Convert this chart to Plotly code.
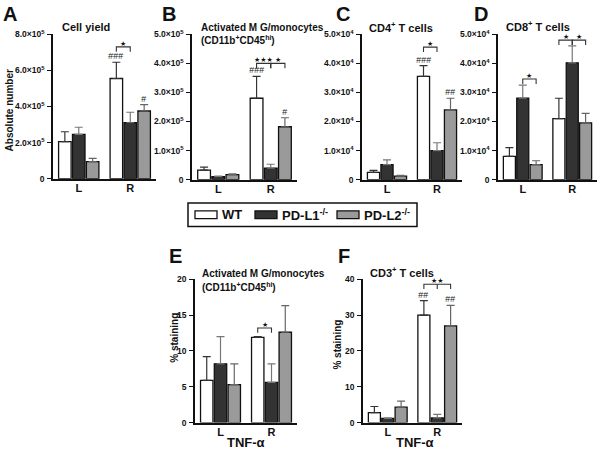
import plotly.graph_objects as go

W, H = 600, 452
FONT = "Arial, Liberation Sans, sans-serif"

# ---------------- data ----------------
groups = ["L", "R"]
genotypes = ["WT", "PD-L1-/-", "PD-L2-/-"]

# panel A: cell yield
A_wt = [2.05e5, 5.55e5];  A_wt_err = [0.55e5, 0.90e5]
A_l1 = [2.45e5, 3.10e5];  A_l1_err = [0.40e5, 0.58e5]
A_l2 = [0.95e5, 3.75e5];  A_l2_err = [0.17e5, 0.35e5]
# panel B: activated MG/monocytes
B_wt = [0.33e5, 2.80e5];  B_wt_err = [0.10e5, 0.75e5]
B_l1 = [0.10e5, 0.40e5];  B_l1_err = [0.02e5, 0.13e5]
B_l2 = [0.17e5, 1.82e5];  B_l2_err = [0.03e5, 0.31e5]
# panel C: CD4+ T cells
C_wt = [0.25e4, 3.55e4];  C_wt_err = [0.07e4, 0.37e4]
C_l1 = [0.52e4, 1.00e4];  C_l1_err = [0.16e4, 0.27e4]
C_l2 = [0.12e4, 2.40e4];  C_l2_err = [0.03e4, 0.40e4]
# panel D: CD8+ T cells
D_wt = [0.80e4, 2.10e4];  D_wt_err = [0.30e4, 0.70e4]
D_l1 = [2.80e4, 4.02e4];  D_l1_err = [0.45e4, 0.58e4]
D_l2 = [0.52e4, 1.95e4];  D_l2_err = [0.13e4, 0.33e4]
# panel E: TNF-a % staining, activated MG/monocytes
E_wt = [5.9, 11.9];  E_wt_err = [3.3, 0.1]
E_l1 = [8.2, 5.6];   E_l1_err = [3.8, 2.6]
E_l2 = [5.3, 12.6];  E_l2_err = [2.9, 3.7]
# panel F: TNF-a % staining, CD3+ T cells
F_wt = [2.8, 30.0];  F_wt_err = [1.7, 4.0]
F_l1 = [1.2, 1.3];   F_l1_err = [0.1, 1.0]
F_l2 = [4.3, 27.0];  F_l2_err = [1.7, 5.7]

# y ticks
A_ticks = [0, 2e5, 4e5, 6e5, 8e5]
A_ticktext = ["0", "2.0×10<sup>5</sup>", "4.0×10<sup>5</sup>", "6.0×10<sup>5</sup>", "8.0×10<sup>5</sup>"]
B_ticks = [0, 1e5, 2e5, 3e5, 4e5, 5e5]
B_ticktext = ["0"] + ["%d.0×10<sup>5</sup>" % i for i in range(1, 6)]
CD_ticks = [0, 1e4, 2e4, 3e4, 4e4, 5e4]
CD_ticktext = ["0"] + ["%d.0×10<sup>4</sup>" % i for i in range(1, 6)]
E_ticks = [0, 5, 10, 15, 20]
F_ticks = [0, 10, 20, 30, 40]

# significance: (group index, bar i, bar j, bracket y, label)
A_brackets = [(1, 0, 1, 7.3e5, "★")]
B_brackets = [(1, 0, 1, 4.0e5, "★★★"), (1, 1, 2, 4.0e5, "★")]
C_brackets = [(1, 0, 1, 4.56e4, "★")]
D_brackets = [(0, 1, 2, 3.46e4, "★"), (1, 0, 1, 4.8e4, "★"), (1, 1, 2, 4.8e4, "★")]
E_brackets = [(1, 0, 1, 13.2, "★")]
F_brackets = [(1, 0, 2, 38.6, "★★")]
# hash marks: (group index, bar index, label)
A_hash = [(1, 0, "###"), (1, 2, "#")]
B_hash = [(1, 0, "###"), (1, 2, "#")]
C_hash = [(1, 0, "###"), (1, 2, "##")]
F_hash = [(1, 0, "##"), (1, 2, "##")]

# ---------------- style ----------------
colors = ["#ffffff", "#333333", "#9a9a9a"]
err_colors = ["#333333", "#777777", "#666666"]
BARGAP, GROUPGAP = 0.19, 0.10
slot = (1 - BARGAP) / 3
offsets = [-slot, 0.0, slot]

def px_x(x):
    return x / W

def px_y(y):
    return 1 - y / H

panels = [
    dict(name="A", vals=(A_wt, A_l1, A_l2), errs=(A_wt_err, A_l1_err, A_l2_err),
         rng=[0, 8e5], ticks=A_ticks, ticktext=A_ticktext, box=(53, 156, 29, 177),
         brackets=A_brackets, hashes=A_hash),
    dict(name="B", vals=(B_wt, B_l1, B_l2), errs=(B_wt_err, B_l1_err, B_l2_err),
         rng=[0, 5e5], ticks=B_ticks, ticktext=B_ticktext, box=(192, 297, 29, 178),
         brackets=B_brackets, hashes=B_hash),
    dict(name="C", vals=(C_wt, C_l1, C_l2), errs=(C_wt_err, C_l1_err, C_l2_err),
         rng=[0, 5e4], ticks=CD_ticks, ticktext=CD_ticktext, box=(362, 462, 29, 178),
         brackets=C_brackets, hashes=C_hash),
    dict(name="D", vals=(D_wt, D_l1, D_l2), errs=(D_wt_err, D_l1_err, D_l2_err),
         rng=[0, 5e4], ticks=CD_ticks, ticktext=CD_ticktext, box=(498, 597, 29, 178),
         brackets=D_brackets, hashes=[]),
    dict(name="E", vals=(E_wt, E_l1, E_l2), errs=(E_wt_err, E_l1_err, E_l2_err),
         rng=[0, 20], ticks=E_ticks, ticktext=[str(t) for t in E_ticks], box=(195, 297, 280, 427),
         brackets=E_brackets, hashes=[]),
    dict(name="F", vals=(F_wt, F_l1, F_l2), errs=(F_wt_err, F_l1_err, F_l2_err),
         rng=[0, 40], ticks=F_ticks, ticktext=[str(t) for t in F_ticks], box=(363, 462, 280, 427),
         brackets=F_brackets, hashes=F_hash),
]

fig = go.Figure()
layout = dict(width=W, height=H, margin=dict(l=0, r=0, t=0, b=0),
              paper_bgcolor="white", plot_bgcolor="white", showlegend=False,
              barmode="group", bargap=BARGAP, bargroupgap=GROUPGAP,
              font=dict(family=FONT, color="#111111"))
shapes, annotations = [], []

for k, p in enumerate(panels):
    sfx = "" if k == 0 else str(k + 1)
    xa, ya = "x" + sfx, "y" + sfx
    x0, x1, ytop, ybot = p["box"]
    plot_h = ybot - ytop
    for i in range(3):
        fig.add_trace(go.Bar(
            x=[0, 1], y=p["vals"][i], name=genotypes[i], xaxis=xa, yaxis=ya,
            marker=dict(color=colors[i], line=dict(color="#111111", width=1.3)),
            error_y=dict(type="data", symmetric=False, array=p["errs"][i],
                         arrayminus=[0, 0], color=err_colors[i], thickness=1.2, width=4),
        ))
    layout["xaxis" + sfx] = dict(
        domain=[px_x(x0), px_x(x1)], anchor=ya, range=[-0.5, 1.5],
        tickvals=[0, 1], ticktext=groups, ticks="", showline=True, linecolor="#111111",
        linewidth=1.5, showgrid=False, zeroline=False, ticklabelstandoff=-2,
        tickfont=dict(family=FONT, size=11, color="#111111", weight="bold"))
    layout["yaxis" + sfx] = dict(
        domain=[px_y(ybot), px_y(ytop)], anchor=xa, range=p["rng"],
        tickvals=p["ticks"], ticktext=p["ticktext"], ticks="outside", ticklen=4,
        tickwidth=1.2, tickcolor="#111111", showline=True, linecolor="#111111",
        linewidth=1.5, showgrid=False, zeroline=False, ticklabelstandoff=1,
        tickfont=dict(family=FONT, size=8.5, color="#111111", weight="bold"))
    dpx = (p["rng"][1] - p["rng"][0]) / plot_h
    for (g, i, j, yb, lab) in p["brackets"]:
        xa_ = g + offsets[i]
        xb_ = g + offsets[j]
        path = "M %f,%f L %f,%f L %f,%f L %f,%f" % (xa_, yb - 5 * dpx, xa_, yb, xb_, yb, xb_, yb - 5 * dpx)
        shapes.append(dict(type="path", path=path, xref=xa, yref=ya,
                           line=dict(color="#333333", width=1.1)))
        if j - i == 2:
            xm = g + offsets[1]
            shapes.append(dict(type="line", x0=xm, x1=xm, y0=yb, y1=yb - 5 * dpx, xref=xa, yref=ya,
                               line=dict(color="#333333", width=1.1)))
        annotations.append(dict(x=(xa_ + xb_) / 2, y=yb, xref=xa, yref=ya, text=lab,
                                showarrow=False, yanchor="bottom", yshift=-3,
                                font=dict(family="DejaVu Sans", size=7, color="#111111")))
    for (g, i, lab) in p["hashes"]:
        top = p["vals"][i][g] + p["errs"][i][g]
        annotations.append(dict(x=g + offsets[i], y=top, xref=xa, yref=ya, text="<i>" + lab + "</i>",
                                showarrow=False, yanchor="bottom", yshift=-1,
                                font=dict(family=FONT, size=9, color="#222222")))

def txt(x, y, s, size, xanchor="left", yanchor="middle", angle=0):
    annotations.append(dict(x=px_x(x), y=px_y(y), xref="paper", yref="paper", text=s,
                            showarrow=False, xanchor=xanchor, yanchor=yanchor, textangle=angle,
                            font=dict(family=FONT, size=size, color="#111111", weight="bold")))

# panel letters
for lab, x, y in [("A", 1, 8), ("B", 160, 8), ("C", 334, 8), ("D", 472, 8), ("E", 167, 256), ("F", 336, 256)]:
    txt(x, y, lab, 20)

# panel titles
txt(60, 22, "Cell yield", 11)
txt(199, 22, "Activated M G/monocytes", 10)
txt(199, 35, "(CD11b<sup>+</sup>CD45<sup>hi</sup>)", 10)
txt(367, 22, "CD4<sup>+</sup> T cells", 11)
txt(504, 21, "CD8<sup>+</sup> T cells", 11)
txt(200, 274, "Activated M G/monocytes", 10)
txt(200, 288, "(CD11b<sup>+</sup>CD45<sup>hi</sup>)", 10)
txt(368, 273, "CD3<sup>+</sup> T cells", 11)

# axis titles
txt(9, 107, "Absolute number", 10, xanchor="center", angle=-90)
txt(175, 340, "% staining", 10, xanchor="center", angle=-90)
txt(338, 347, "% staining", 10, xanchor="center", angle=-90)
txt(246, 438, "TNF-α", 13, xanchor="center", yanchor="top")
txt(415, 438, "TNF-α", 13, xanchor="center", yanchor="top")

# legend
shapes.append(dict(type="rect", xref="paper", yref="paper", x0=px_x(188), x1=px_x(417),
                   y0=px_y(226), y1=px_y(202), line=dict(color="#111111", width=1.5)))
for (lx, lab, c) in [(195, "WT", colors[0]), (255, "PD-L1<sup>-/-</sup>", colors[1]), (337, "PD-L2<sup>-/-</sup>", colors[2])]:
    shapes.append(dict(type="rect", xref="paper", yref="paper", x0=px_x(lx), x1=px_x(lx + 22),
                       y0=px_y(218), y1=px_y(210), fillcolor=c, line=dict(color="#111111", width=1.3)))
    txt(lx + 25, 214, lab, 13)

layout["shapes"] = shapes
layout["annotations"] = annotations
fig.update_layout(**layout)
fig.write_html("out.html", config={"displayModeBar": False},
               post_script="document.body.style.margin='0';")
